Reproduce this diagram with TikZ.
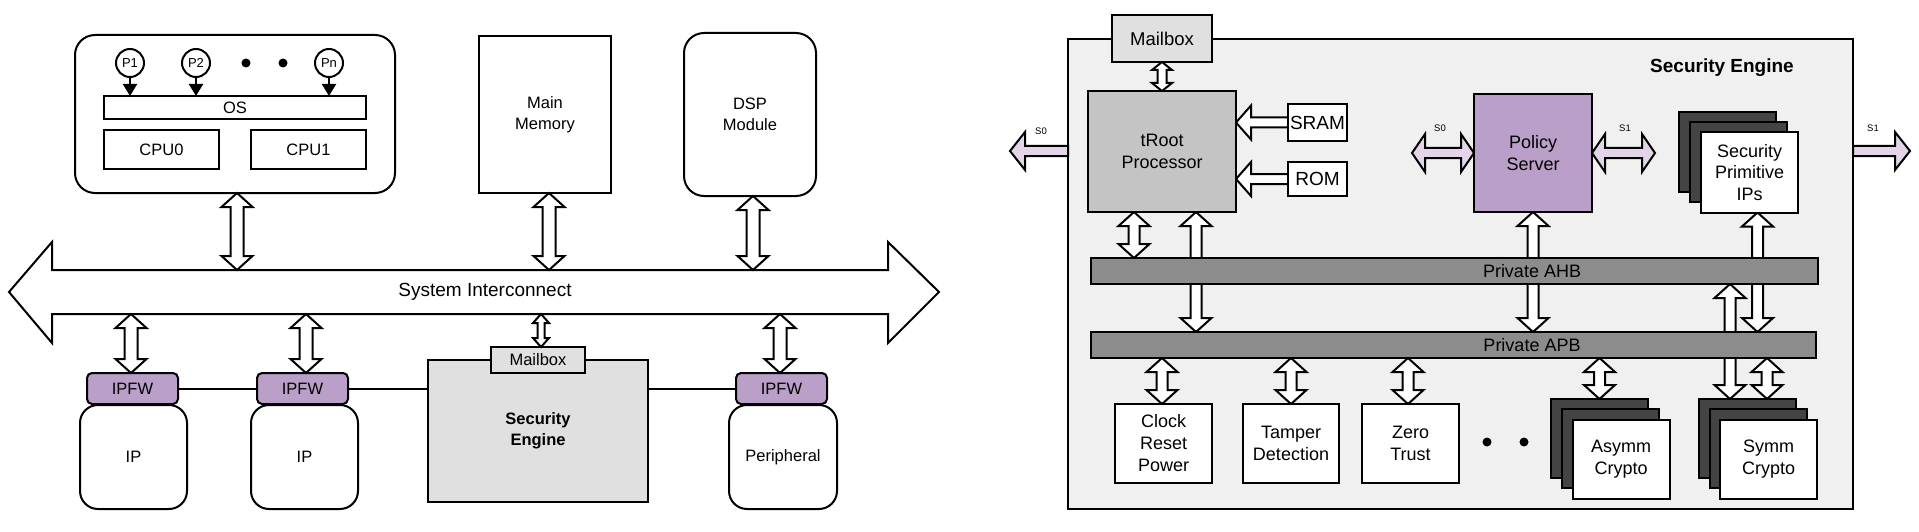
\documentclass[tikz,border=0pt]{standalone}
\usepackage{fontspec}
\setmainfont{Liberation Sans}
\usetikzlibrary{arrows.meta,calc}
\definecolor{pur}{RGB}{186,160,201}
\definecolor{lpur}{RGB}{225,213,231}
\definecolor{lgray}{RGB}{224,224,224}
\definecolor{segray}{RGB}{240,240,240}
\definecolor{rootgray}{RGB}{196,196,196}
\definecolor{busgray}{RGB}{140,140,140}
\definecolor{dk}{RGB}{68,68,68}
\pgfdeclarelayer{bg}
\pgfdeclarelayer{mid}
\pgfsetlayers{bg,mid,main}
% vertical double arrow: top point, bottom point, head half width, shaft half width, head length, fill
\newcommand\VD[6]{\draw[fill=#6, line width=2pt, line join=miter] let \p1=#1, \p2=#2 in
 (\x1,\y1) -- ({\x1+#3},{\y1-#5}) -- ({\x1+#4},{\y1-#5}) -- ({\x1+#4},{\y2+#5}) -- ({\x1+#3},{\y2+#5}) -- (\x1,\y2)
 -- ({\x1-#3},{\y2+#5}) -- ({\x1-#4},{\y2+#5}) -- ({\x1-#4},{\y1-#5}) -- ({\x1-#3},{\y1-#5}) -- cycle;}
% horizontal double arrow: left point, right point, head half height, shaft half height, head length, fill
\newcommand\HD[6]{\draw[fill=#6, line width=2pt, line join=miter] let \p1=#1, \p2=#2 in
 (\x1,\y1) -- ({\x1+#5},{\y1+#3}) -- ({\x1+#5},{\y1+#4}) -- ({\x2-#5},{\y1+#4}) -- ({\x2-#5},{\y1+#3}) -- (\x2,\y1)
 -- ({\x2-#5},{\y1-#3}) -- ({\x2-#5},{\y1-#4}) -- ({\x1+#5},{\y1-#4}) -- ({\x1+#5},{\y1-#3}) -- cycle;}
% horizontal arrow, head at left: tip point, tail point
\newcommand\HL[6]{\draw[fill=#6, line width=2pt, line join=miter] let \p1=#1, \p2=#2 in
 (\x1,\y1) -- ({\x1+#5},{\y1+#3}) -- ({\x1+#5},{\y1+#4}) -- (\x2,{\y1+#4}) -- (\x2,{\y1-#4}) -- ({\x1+#5},{\y1-#4}) -- ({\x1+#5},{\y1-#3}) -- cycle;}
% horizontal arrow, head at right: tail point, tip point
\newcommand\HR[6]{\draw[fill=#6, line width=2pt, line join=miter] let \p1=#1, \p2=#2 in
 (\x2,\y1) -- ({\x2-#5},{\y1+#3}) -- ({\x2-#5},{\y1+#4}) -- (\x1,{\y1+#4}) -- (\x1,{\y1-#4}) -- ({\x2-#5},{\y1-#4}) -- ({\x2-#5},{\y1-#3}) -- cycle;}
\tikzset{
 bx/.style={draw, line width=2pt, inner sep=0pt, outer sep=0pt, align=center, fill=white, font=\fontsize{16.5}{21}\selectfont},
 rbx/.style={bx, rounded corners=20pt},
 sz/.style 2 args={minimum width=#1pt, minimum height=#2pt},
 rt/.style={font=\fontsize{18}{22}\selectfont},
 pc/.style={circle, draw, line width=2pt, minimum size=28pt, inner sep=0pt, fill=white, font=\fontsize{13}{14}\selectfont},
 dot/.style={circle, fill=black, minimum size=9pt, inner sep=0pt},
 slab/.style={font=\fontsize{9.5}{10}\selectfont},
 parr/.style={line width=2pt, -{Triangle[width=14pt,length=12pt]}}
}
\begin{document}
\begin{tikzpicture}[x=1pt,y=-1pt]
\useasboundingbox (0,0) rectangle (1919,532);
% ================= LEFT =================
\node[rbx, sz={320}{158}] (cpu) at (235,114) {};
\node[pc] (p1) at (130,63) {P1};
\node[pc] (p2) at (196,63) {P2};
\node[pc] (pn) at (329,63) {Pn};
\node[dot] (d1) at (246,63) {};
\node[dot] (d2) at (283,63) {};
\node[bx, sz={262}{23}] (os) at (235,107.5) {OS};
\node[bx, sz={115}{39}] (cpu0) at (161.5,149.5) {CPU0};
\node[bx, sz={115}{39}] (cpu1) at (308.5,149.5) {CPU1};
\draw[parr] (p1) -- (p1 |- os.north);
\draw[parr] (p2) -- (p2 |- os.north);
\draw[parr] (pn) -- (pn |- os.north);
\node[bx, sz={132}{157}] (mm) at (545,114.5) {Main\\Memory};
\node[rbx, sz={132}{163}] (dsp) at (750,114.5) {DSP\\Module};
% bus
\draw[fill=white, line width=2pt, line join=miter] (9,292) -- (52,242) -- (52,270) -- (888,270) -- (888,242) -- (939,292) -- (888,343) -- (888,314) -- (52,314) -- (52,343) -- cycle;
\node[font=\fontsize{19}{22}\selectfont] (busl) at (485,292) {System Interconnect};
\coordinate (bustop) at (0,270);
\coordinate (busbot) at (0,314);
\node[bx, fill=pur, rounded corners=5pt, sz={91}{31}] (ipfw1) at (132.5,388.5) {IPFW};
\node[rbx, rounded corners=18pt, sz={107}{104}] (ip1) at (133.5,457) {IP};
\node[bx, fill=pur, rounded corners=5pt, sz={91}{31}] (ipfw2) at (302.5,388.5) {IPFW};
\node[rbx, rounded corners=18pt, sz={107}{104}] (ip2) at (304.5,457) {IP};
\node[bx, fill=lgray, sz={220}{142}, font=\bfseries\fontsize{16.5}{21}\selectfont] (seL) at (538,431) {Security\\Engine};
\node[bx, fill=lgray, sz={94}{26}] (mbL) at (538,360) {Mailbox};
\node[bx, fill=pur, rounded corners=5pt, sz={91}{31}] (ipfw3) at (781.5,388.5) {IPFW};
\node[rbx, rounded corners=18pt, sz={108}{104}] (per) at (783,457) {Peripheral};
\draw[line width=2pt] (ipfw1.east) -- (ipfw2.west);
\draw[line width=2pt] (ipfw2.east) -- (ipfw2.east -| seL.west);
\draw[line width=2pt] (seL.east |- ipfw3.west) -- (ipfw3.west);
\VD{([xshift=2pt]cpu.south)}{([xshift=2pt]cpu.south |- bustop)}{15.5pt}{6.5pt}{14pt}{white}
\VD{([xshift=4pt]mm.south)}{([xshift=4pt]mm.south |- bustop)}{15.5pt}{6.5pt}{14pt}{white}
\VD{([xshift=3pt]dsp.south)}{([xshift=3pt]dsp.south |- bustop)}{15.5pt}{6.5pt}{14pt}{white}
\VD{([xshift=-1.5pt]ipfw1.north |- busbot)}{([xshift=-1.5pt]ipfw1.north)}{15.5pt}{6.5pt}{14pt}{white}
\VD{([xshift=3.5pt]ipfw2.north |- busbot)}{([xshift=3.5pt]ipfw2.north)}{15.5pt}{6.5pt}{14pt}{white}
\VD{([xshift=-1.5pt]ipfw3.north |- busbot)}{([xshift=-1.5pt]ipfw3.north)}{15.5pt}{6.5pt}{14pt}{white}
\VD{([xshift=3pt]mbL.north |- busbot)}{([xshift=3pt]mbL.north)}{8pt}{3.5pt}{9pt}{white}
% ================= RIGHT =================
\begin{pgfonlayer}{bg}
\node[bx, fill=segray, sz={785}{470}] (seR) at (1460.5,274) {};
\end{pgfonlayer}
\node[font=\bfseries\fontsize{19}{22}\selectfont] (setitle) at (1722,68) {Security Engine};
\node[bx, fill=lgray, sz={100}{47}, font=\fontsize{18.5}{22}\selectfont] (mbR) at (1162,38.5) {Mailbox};
\node[bx, fill=rootgray, sz={148}{121}, rt] (troot) at (1162,151.5) {tRoot\\Processor};
\node[bx, sz={59}{37}, font=\fontsize{19}{22}\selectfont] (sram) at (1317.5,122.5) {SRAM};
\node[bx, sz={59}{34}, font=\fontsize{19}{22}\selectfont] (rom) at (1317.5,179) {ROM};
\node[bx, fill=pur, sz={118}{118}, rt] (pol) at (1533,153) {Policy\\Server};
\node[bx, fill=dk, sz={97}{80}] (spb) at (1727.5,152) {};
\node[bx, fill=dk, sz={97}{80}] (spm) at (1738.5,162) {};
\node[bx, sz={97}{80}, font=\fontsize{18}{21.5}\selectfont] (spf) at (1749.5,172.5) {Security\\Primitive\\IPs};
\node[bx, fill=busgray, sz={727}{26}] (ahb) at (1454.5,271) {};
\node[rt] (ahbl) at (1532,271) {Private AHB};
\node[bx, fill=busgray, sz={725}{26}] (apb) at (1453.5,345) {};
\node[rt] (apbl) at (1532,345) {Private APB};
\node[bx, sz={97}{79}, rt] (clk) at (1163.5,443.5) {Clock\\Reset\\Power};
\node[bx, sz={96}{79}, rt] (tam) at (1291,443.5) {Tamper\\Detection};
\node[bx, sz={97}{79}, rt] (zt) at (1410.5,443.5) {Zero\\Trust};
\node[dot] (d3) at (1487,442) {};
\node[dot] (d4) at (1524,442) {};
\node[bx, fill=dk, sz={97}{79}] (asb) at (1599.5,438.5) {};
\node[bx, fill=dk, sz={97}{79}] (asm) at (1610.5,448.5) {};
\node[bx, sz={97}{79}, rt] (asf) at (1621,459.5) {Asymm\\Crypto};
\node[bx, fill=dk, sz={97}{79}] (syb) at (1747.5,438.5) {};
\node[bx, fill=dk, sz={97}{79}] (sym) at (1758.5,448.5) {};
\node[bx, sz={97}{79}, rt] (syf) at (1768.5,459.5) {Symm\\Crypto};
% labels
\node[slab] (ls0a) at (1041,131) {S0};
\node[slab] (ls0b) at (1440,128) {S0};
\node[slab] (ls1a) at (1625,128) {S1};
\node[slab] (ls1b) at (1873,128) {S1};
\coordinate (s0tip) at (1010,151);
\coordinate (s1tip) at (1910,151);
\coordinate (s0l) at (1412,153);
\coordinate (s1r) at (1655,153);
\begin{pgfonlayer}{mid}
\VD{(mbR.south)}{(troot.north)}{10pt}{4.5pt}{8pt}{white}
\VD{([xshift=-28pt]troot.south)}{([xshift=-28pt]troot.south |- ahb.north)}{15.5pt}{5.5pt}{14pt}{white}
\VD{([xshift=34pt]troot.south)}{([xshift=34pt]troot.south |- apb.north)}{15.5pt}{5.5pt}{14pt}{white}
\VD{(pol.south)}{(pol.south |- apb.north)}{15.5pt}{5.5pt}{14pt}{white}
\VD{([xshift=8pt]spf.south)}{([xshift=8pt]spf.south |- apb.north)}{15.5pt}{5.5pt}{14pt}{white}
\VD{([xshift=-17.5pt]syb.north |- ahb.south)}{([xshift=-17.5pt]syb.north)}{15.5pt}{5.5pt}{14pt}{white}
\VD{([xshift=19.5pt]syb.north |- apb.south)}{([xshift=19.5pt]syb.north)}{15.5pt}{5.5pt}{14pt}{white}
\VD{(asb.north |- apb.south)}{(asb.north)}{15.5pt}{5.5pt}{14pt}{white}
\VD{([xshift=-1.5pt]clk.north |- apb.south)}{([xshift=-1.5pt]clk.north)}{15.5pt}{5.5pt}{14pt}{white}
\VD{(tam.north |- apb.south)}{(tam.north)}{15.5pt}{5.5pt}{14pt}{white}
\VD{([xshift=-2.5pt]zt.north |- apb.south)}{([xshift=-2.5pt]zt.north)}{15.5pt}{5.5pt}{14pt}{white}
\HL{(troot.east |- sram.west)}{(sram.west)}{17pt}{5pt}{15pt}{white}
\HL{(troot.east |- rom.west)}{(rom.west)}{17pt}{5pt}{15pt}{white}
\HL{(s0tip)}{(seR.west |- s0tip)}{19pt}{5pt}{15pt}{lpur}
\HR{(seR.east |- s1tip)}{(s1tip)}{19pt}{5pt}{15pt}{lpur}
\HD{(s0l)}{(pol.west |- s0l)}{19pt}{5pt}{13pt}{lpur}
\HD{(pol.east |- s1r)}{(s1r)}{19pt}{5pt}{13pt}{lpur}
\end{pgfonlayer}
\end{tikzpicture}
\end{document}
